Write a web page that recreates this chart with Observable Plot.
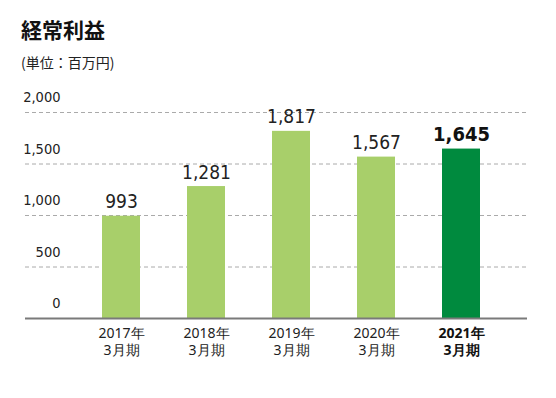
<!DOCTYPE html>
<html><head><meta charset="utf-8">
<script src="https://cdn.jsdelivr.net/npm/d3@7"></script>
<script src="https://cdn.jsdelivr.net/npm/@observablehq/plot@0.6"></script>
<style>
body{margin:0;background:#fff;font-family:"Noto Sans CJK JP","Noto Sans",sans-serif;}
#wrap{width:556px;height:398px;position:relative;overflow:hidden;}
#title{position:absolute;left:21px;top:15px;font-size:21px;font-weight:bold;color:#111;line-height:28px;}
#sub{position:absolute;left:21px;top:52px;font-size:14px;color:#222;line-height:20px;}
#chart{position:absolute;left:0;top:80px;}
</style></head>
<body><div id="wrap">
<div id="title">経常利益</div>
<div id="sub">(単位：百万円)</div>
<div id="chart"></div>
</div>
<script>
const categories = ["2017年\n3月期","2018年\n3月期","2019年\n3月期","2020年\n3月期","2021年\n3月期"];
const values = [993, 1281, 1817, 1567, 1645];
const highlight = [false, false, false, false, true];
const yTicks = [0, 500, 1000, 1500, 2000];

const data = categories.map((c,i)=>({cat:c, value:values[i], hi:highlight[i]}));
const numFont = '"DejaVu Sans Condensed","Noto Sans",sans-serif';

const chart = Plot.plot({
  width: 556, height: 318,
  marginLeft: 25, marginRight: 29, marginTop: 32, marginBottom: 80,
  x: {domain: categories, paddingInner: 0.557, paddingOuter: 0.7055, align: 0.62, axis: null},
  y: {domain: [0, 2000], axis: null},
  marks: [
    Plot.ruleY(yTicks.filter(d=>d>0), {stroke:"#aaa", strokeDasharray:"4,3", strokeWidth:1}),
    Plot.barY(data, {x:"cat", y:"value", fill: d=>d.hi ? "#008a3e" : "#a8cf6a"}),
    Plot.ruleY([0], {stroke:"#7a7a7a", strokeWidth:2}),
    Plot.text(yTicks, {y: d=>d, frameAnchor:"left", dx:35, dy:-15, textAnchor:"end",
      text: d=>d3.format(",")(d), fontSize:14.5, fill:"#222", fontFamily:numFont}),
    Plot.text(data.filter(d=>!d.hi), {x:"cat", y:"value", text: d=>d3.format(",")(d.value),
      lineAnchor:"bottom", dy:-8, fontSize:19, fill:"#222", fontFamily:numFont}),
    Plot.text(data.filter(d=>d.hi), {x:"cat", y:"value", text: d=>d3.format(",")(d.value),
      lineAnchor:"bottom", dy:-8, fontSize:20, fontWeight:"bold", fill:"#111", fontFamily:numFont}),
    Plot.text(data.filter(d=>!d.hi), {x:"cat", y:0, text:"cat", lineAnchor:"top", dy:7,
      fontSize:14, lineHeight:1.25, fill:"#222"}),
    Plot.text(data.filter(d=>d.hi), {x:"cat", y:0, text:"cat", lineAnchor:"top", dy:7,
      fontSize:14, lineHeight:1.25, fontWeight:"bold", fill:"#111"})
  ]
});
document.getElementById("chart").appendChild(chart);
</script>
</body></html>
